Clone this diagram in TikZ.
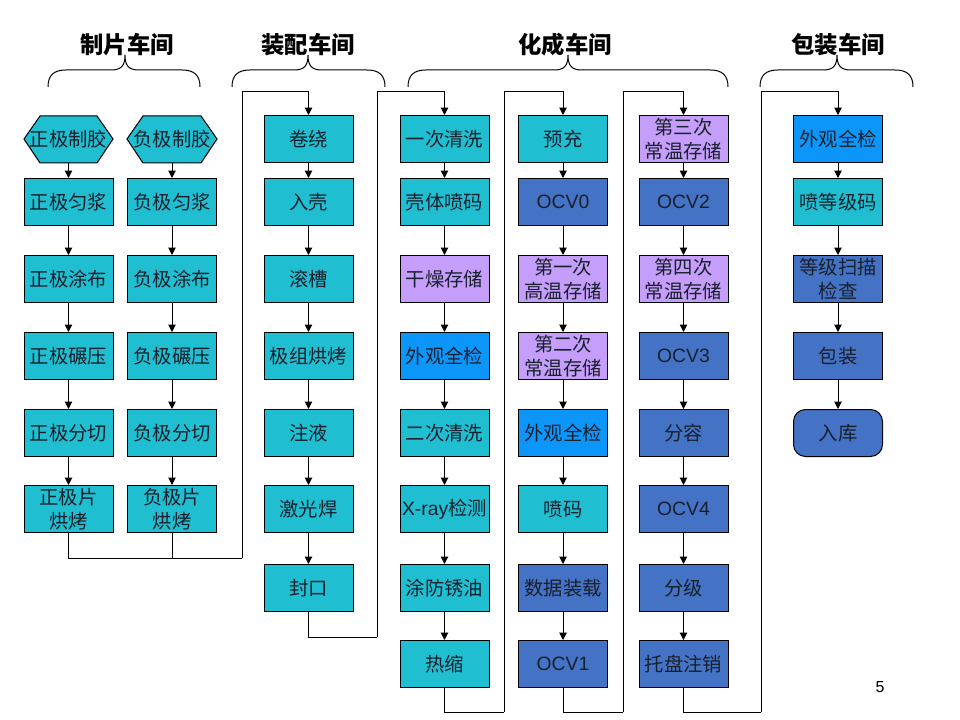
\documentclass[tikz,border=0pt]{standalone}
\usepackage{fontspec}
\setmainfont{Noto Sans CJK SC}
\newfontfamily\lat{Liberation Sans}
\usetikzlibrary{arrows.meta}
\definecolor{tealc}{RGB}{31,190,209}
\definecolor{darkb}{RGB}{68,114,196}
\definecolor{brightb}{RGB}{12,150,250}
\definecolor{purp}{RGB}{196,158,250}
\definecolor{txt}{RGB}{25,32,45}
\begin{document}
\begin{tikzpicture}[x=0.75pt,y=-0.75pt,
 box/.style={draw=black,line width=0.75pt,minimum width=66.75pt,minimum height=35.25pt,inner sep=1pt,align=center,text=txt,font=\fontsize{14.5}{17.5}\selectfont},
 tbox/.style={box,fill=tealc},
 dbox/.style={box,fill=darkb},
 bbox/.style={box,fill=brightb},
 pbox/.style={box,fill=purp},
 hexbox/.style={box,draw=none},
 endbox/.style={box,fill=darkb,rounded corners=9pt},
 arr/.style={line width=0.75pt,-{Triangle[length=5.5pt,width=5.5pt]}},
 ln/.style={line width=0.75pt},
 brc/.style={line width=0.75pt},
 title/.style={font=\fontsize{17.5}{20}\selectfont\bfseries}]
\useasboundingbox (0,0) rectangle (960,720);

% titles
\node[title] (T1) at (127,45) {制片车间};
\node[title] (T2) at (308,45) {装配车间};
\node[title] (T3) at (565,45) {化成车间};
\node[title] (T4) at (838,45) {包装车间};

% braces
\newcommand\hbrace[3]{%
 \draw[brc] (#1,87) .. controls (#1,75) and (#1+6,70) .. (#1+18,70) -- (#2-14,70)
  .. controls (#2-4,70) and (#2,66) .. (#2,55)
  .. controls (#2,66) and (#2+4,70) .. (#2+14,70) -- (#3-18,70)
  .. controls (#3-6,70) and (#3,75) .. (#3,87);}
\hbrace{48}{125}{200}
\hbrace{232}{308}{385}
\hbrace{408}{568}{728}
\hbrace{760}{837}{913}

% hexagons
\draw[ln,fill=tealc] (24,139) -- (40,116) -- (97,116) -- (113,139) -- (97,163) -- (40,163) -- cycle;
\draw[ln,fill=tealc] (127,139) -- (143,116) -- (201,116) -- (217,139) -- (201,163) -- (143,163) -- cycle;
\node[hexbox] (a0) at (68.5,139) {正极制胶};
\node[hexbox] (b0) at (172,139) {负极制胶};

% column a
\node[tbox] (a1) at (68.5,202) {正极匀浆};
\node[tbox] (a2) at (68.5,279) {正极涂布};
\node[tbox] (a3) at (68.5,356) {正极碾压};
\node[tbox] (a4) at (68.5,433) {正极分切};
\node[tbox] (a5) at (68.5,509) {正极片\\烘烤};
% column b
\node[tbox] (b1) at (172,202) {负极匀浆};
\node[tbox] (b2) at (172,279) {负极涂布};
\node[tbox] (b3) at (172,356) {负极碾压};
\node[tbox] (b4) at (172,433) {负极分切};
\node[tbox] (b5) at (172,509) {负极片\\烘烤};
% column z
\node[tbox] (z1) at (308.5,139) {卷绕};
\node[tbox] (z2) at (308.5,202) {入壳};
\node[tbox] (z3) at (308.5,279) {滚槽};
\node[tbox] (z4) at (308.5,356) {极组烘烤};
\node[tbox] (z5) at (308.5,433) {注液};
\node[tbox] (z6) at (308.5,509) {激光焊};
\node[tbox] (z7) at (308.5,588) {封口};
% column h
\node[tbox] (h1) at (444.5,139) {一次清洗};
\node[tbox] (h2) at (444.5,202) {壳体喷码};
\node[pbox] (h3) at (444.5,279) {干燥存储};
\node[bbox] (h4) at (444.5,356) {外观全检};
\node[tbox] (h5) at (444.5,433) {二次清洗};
\node[tbox] (h6) at (444.5,509) {{\lat X-ray}检测};
\node[tbox] (h7) at (444.5,588) {涂防锈油};
\node[tbox] (h8) at (444.5,664) {热缩};
% column g
\node[tbox] (g1) at (563,139) {预充};
\node[dbox] (g2) at (563,202) {\lat OCV0};
\node[pbox] (g3) at (563,279) {第一次\\高温存储};
\node[pbox] (g4) at (563,356) {第二次\\常温存储};
\node[bbox] (g5) at (563,433) {外观全检};
\node[tbox] (g6) at (563,509) {喷码};
\node[dbox] (g7) at (563,588) {数据装载};
\node[dbox] (g8) at (563,664) {\lat OCV1};
% column k
\node[pbox] (k1) at (683.5,139) {第三次\\常温存储};
\node[dbox] (k2) at (683.5,202) {\lat OCV2};
\node[pbox] (k3) at (683.5,279) {第四次\\常温存储};
\node[dbox] (k4) at (683.5,356) {\lat OCV3};
\node[dbox] (k5) at (683.5,433) {分容};
\node[dbox] (k6) at (683.5,509) {\lat OCV4};
\node[dbox] (k7) at (683.5,588) {分级};
\node[dbox] (k8) at (683.5,664) {托盘注销};
% column p
\node[bbox] (p1) at (838,139) {外观全检};
\node[tbox] (p2) at (838,202) {喷等级码};
\node[dbox] (p3) at (838,279) {等级扫描\\检查};
\node[dbox] (p4) at (838,356) {包装};
\node[endbox] (p5) at (838,433) {入库};

% vertical arrows
\foreach \i/\j in {0/1,1/2,2/3,3/4,4/5}{
  \draw[arr] (a\i.south) -- (a\j.north);
  \draw[arr] (b\i.south) -- (b\j.north);
}
\foreach \i/\j in {1/2,2/3,3/4,4/5}{
  \draw[arr] (p\i.south) -- (p\j.north);
}
\foreach \i/\j in {1/2,2/3,3/4,4/5,5/6,6/7}{
  \draw[arr] (z\i.south) -- (z\j.north);
}
\foreach \i/\j in {1/2,2/3,3/4,4/5,5/6,6/7,7/8}{
  \draw[arr] (h\i.south) -- (h\j.north);
  \draw[arr] (g\i.south) -- (g\j.north);
  \draw[arr] (k\i.south) -- (k\j.north);
}

% connectors between columns
\coordinate (j1) at (242,558); \coordinate (t1) at (242,92);
\coordinate (j2) at (377,637); \coordinate (t2) at (377,92);
\coordinate (j3) at (504,712); \coordinate (t3) at (504,92);
\coordinate (j4) at (623,712); \coordinate (t4) at (623,92);
\coordinate (j5) at (761,712); \coordinate (t5) at (761,92);
\draw[ln] (a5.south) |- (j1);
\draw[ln] (b5.south) -- (b5.south |- j1);
\draw[arr] (j1) -- (t1) -| (z1.north);
\draw[ln] (z7.south) |- (j2);
\draw[arr] (j2) -- (t2) -| (h1.north);
\draw[ln] (h8.south) |- (j3);
\draw[arr] (j3) -- (t3) -| (g1.north);
\draw[ln] (g8.south) |- (j4);
\draw[arr] (j4) -- (t4) -| (k1.north);
\draw[ln] (k8.south) |- (j5);
\draw[arr] (j5) -- (t5) -| (p1.north);

\node[font=\lat\fontsize{12}{14}\selectfont] (pg) at (880,687) {5};
\end{tikzpicture}
\end{document}
